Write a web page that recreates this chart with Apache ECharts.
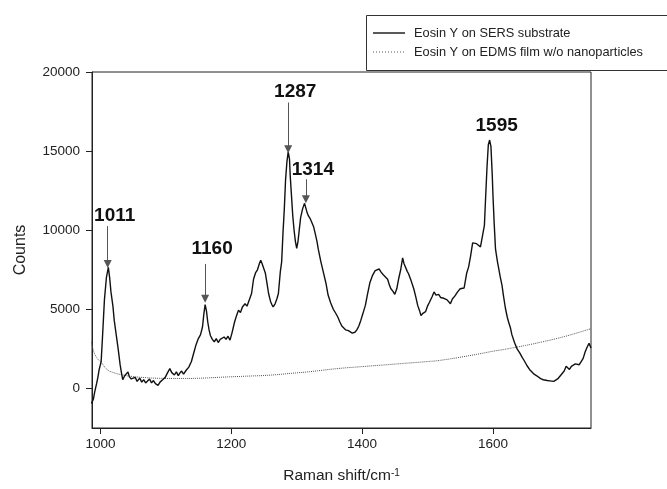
<!DOCTYPE html>
<html>
<head>
<meta charset="utf-8">
<script src="https://cdn.jsdelivr.net/npm/echarts@6/dist/echarts.min.js"></script>
<style>
html,body{margin:0;padding:0;background:#fff;}
#chart{width:667px;height:489px;}
</style>
</head>
<body>
<div id="chart"></div>
<script>
// SERS spectrum (Raman shift, counts)
var sersX = [986,989,991,994,996,998,1001,1003,1006,1009,1012,1014,1016,1019,1021,1024,1027,1030,1032,1034,1037,1040,1042,1044,1047,1050,1053,1056,1060,1063,1066,1069,1072,1075,1078,1081,1084,1088,1091,1095,1099,1102,1106,1109,1113,1116,1119,1121,1124,1127,1131,1135,1139,1143,1146,1149,1153,1156,1158,1160,1162,1164,1166,1168,1171,1174,1177,1180,1183,1186,1189,1192,1195,1198,1201,1205,1208,1211,1214,1217,1221,1224,1228,1231,1234,1237,1240,1243,1245,1247,1249,1252,1254,1257,1260,1262,1264,1267,1270,1272,1275,1277,1279,1281,1283,1285,1287,1289,1290,1292,1294,1296,1298,1300,1302,1304,1306,1309,1312,1314,1316,1318,1321,1323,1326,1328,1331,1333,1337,1341,1345,1348,1352,1356,1359,1363,1366,1369,1372,1375,1379,1382,1385,1389,1392,1395,1398,1401,1405,1408,1412,1416,1420,1423,1426,1429,1432,1435,1439,1442,1444,1447,1450,1453,1456,1459,1462,1464,1466,1469,1471,1475,1479,1482,1485,1488,1490,1493,1497,1500,1503,1507,1510,1513,1517,1520,1525,1530,1535,1538,1542,1546,1550,1553,1556,1560,1563,1566,1569,1572,1575,1578,1581,1584,1587,1589,1591,1593,1595,1597,1599,1600,1602,1604,1607,1609,1611,1614,1616,1619,1622,1624,1627,1629,1633,1637,1641,1645,1648,1652,1656,1659,1663,1667,1670,1673,1677,1680,1683,1687,1690,1693,1696,1699,1702,1705,1709,1712,1714,1717,1720,1723,1726,1729,1732,1735,1738,1741,1744,1747,1750];
var sersY = [-950,-700,-250,300,700,1200,1700,3200,5600,7000,7650,7000,6100,5200,4300,3400,2500,1500,1000,550,800,700,1050,750,600,500,700,450,650,400,550,350,450,600,350,500,300,200,400,550,700,950,1250,1000,850,1050,800,950,1100,900,1150,1350,1700,2300,2750,3100,3400,3900,4700,5300,4900,4200,3700,3350,3100,2950,3150,2900,3100,3000,3250,3100,3300,3050,3500,4200,4600,4950,4800,5150,5350,5200,5650,6000,6900,7300,7500,7900,8100,7900,7850,7300,6800,6000,5500,5300,5150,5350,5700,6000,7400,8000,9800,11300,13200,14300,14950,14500,13500,12200,10900,10000,9300,8850,9300,10050,10800,11350,11700,11650,11100,10900,10700,10500,10200,9850,9300,8800,8000,7300,6600,5900,5400,5000,4800,4500,4200,3950,4000,3700,3650,3750,3500,3550,3700,3950,4300,4700,5250,5900,6700,7150,7450,7400,7550,7350,7200,7300,6900,6500,6300,6150,5950,6300,6950,7500,8250,7900,7850,7400,7250,6800,6300,5800,5250,4900,4600,4750,4850,5200,5450,5800,6100,5900,5950,5750,5700,5600,5350,5650,5850,6100,6300,6200,6350,7300,7700,8400,9200,9250,9150,9200,8950,8950,10300,12200,14000,15400,15700,15300,13500,12300,10400,8800,8000,7550,7100,6500,5900,5100,4500,4200,3800,3400,2900,2500,2250,1950,1750,1450,1200,1100,900,800,700,620,550,600,500,480,550,450,400,600,700,900,1100,1400,1450,1200,1400,1300,1550,1450,1500,1700,1900,2300,2600,2850,2550];

// film without nanoparticles
var filmX = [986,990,995,1001,1010,1020,1034,1050,1070,1090,1110,1130,1160,1190,1220,1259,1290,1320,1361,1400,1463,1500,1520,1565,1600,1622,1650,1673,1700,1724,1750];
var filmY = [2950,2300,1900,1650,1200,1000,850,750,680,640,630,630,660,720,770,840,950,1060,1250,1380,1580,1700,1780,2080,2350,2500,2720,2920,3180,3450,3780];

var seriesNames = ['Eosin Y on SERS substrate', 'Eosin Y on EDMS film w/o nanoparticles'];

// peak annotations
var peakLabels = ['1011', '1160', '1287', '1314', '1595'];
var peakX = [1011, 1160, 1287, 1314, 1595];
var labelY = [10900, 8816, 18770, 13850, 16590];
var arrowFrom = [10260, 7870, 18070, 13220, null];
var arrowTo = [7870, 5670, 15110, 11960, null];

var xTicks = [1000, 1200, 1400, 1600];
var yTicks = [0, 5000, 10000, 15000, 20000];

var FONT = '"Liberation Sans", Arial, sans-serif';

function pairs(xs, ys) { return xs.map(function (x, i) { return [x, ys[i]]; }); }

var arrowData = [];
peakX.forEach(function (x, i) {
  if (arrowFrom[i] != null) arrowData.push([{ coord: [x, arrowFrom[i]] }, { coord: [x, arrowTo[i]] }]);
});
var labelData = peakX.map(function (x, i) {
  return { coord: [x, labelY[i]], value: peakLabels[i] };
});

// legend drawn as graphic (box partly off-canvas like the reference)
var legendGraphic = [
  { type: 'rect', left: 364, top: 13, silent: true, shape: { width: 320, height: 55 },
    style: { fill: 'none', stroke: '#333', lineWidth: 1 } },
  { type: 'line', silent: true, shape: { x1: 373, y1: 33, x2: 405, y2: 33 },
    style: { stroke: '#000', lineWidth: 1.3 } },
  { type: 'line', silent: true, shape: { x1: 373, y1: 52, x2: 405, y2: 52 },
    style: { stroke: '#555', lineWidth: 1, lineDash: [1, 2] } },
  { type: 'text', silent: true, x: 414, y: 33,
    style: { text: seriesNames[0], fill: '#222', font: '12.8px ' + FONT, textVerticalAlign: 'middle', verticalAlign: 'middle' } },
  { type: 'text', silent: true, x: 414, y: 52,
    style: { text: seriesNames[1], fill: '#222', font: '12.8px ' + FONT, textVerticalAlign: 'middle', verticalAlign: 'middle' } }
];

var chart = echarts.init(document.getElementById('chart'), null, { renderer: 'canvas' });
chart.setOption({
  animation: false,
  backgroundColor: '#fff',
  textStyle: { fontFamily: FONT },
  grid: { left: 92, right: 76, top: 72, bottom: 59, show: true, borderColor: '#222', borderWidth: 1, backgroundColor: 'transparent' },
  graphic: legendGraphic,
  xAxis: {
    type: 'value', min: 987, max: 1750,
    name: 'Raman shift/cm{sup|-1}', nameLocation: 'middle', nameGap: 40,
    nameTextStyle: { fontSize: 15.5, color: '#222', fontFamily: FONT,
      rich: { sup: { fontSize: 10, verticalAlign: 'top', color: '#222', padding: [0, 0, 6, 0] } } },
    axisLine: { show: true, onZero: false, lineStyle: { color: '#222', width: 1 } },
    axisTick: { show: true, inside: false, length: 6, customValues: xTicks, lineStyle: { color: '#222' } },
    axisLabel: { fontSize: 13.5, color: '#222', margin: 9, customValues: xTicks, fontFamily: FONT,
      formatter: function (v) { return String(v); } },
    splitLine: { show: false }
  },
  yAxis: {
    type: 'value', min: -2500, max: 20000,
    name: 'Counts', nameLocation: 'middle', nameGap: 63, nameRotate: 90,
    nameTextStyle: { fontSize: 16, color: '#222', fontFamily: FONT },
    axisLine: { show: true, onZero: false, lineStyle: { color: '#222', width: 1 } },
    axisTick: { show: true, inside: false, length: 6, customValues: yTicks, lineStyle: { color: '#222' } },
    axisLabel: { fontSize: 13.5, color: '#222', margin: 12, customValues: yTicks, fontFamily: FONT,
      formatter: function (v) { return String(v); } },
    splitLine: { show: false }
  },
  series: [
    {
      name: seriesNames[0], type: 'line', data: pairs(sersX, sersY),
      symbol: 'none', smooth: false,
      lineStyle: { color: '#111', width: 1.4 }, itemStyle: { color: '#111' },
      z: 3,
      markLine: {
        silent: true, symbol: ['none', 'triangle'], symbolSize: [8, 8],
        label: { show: false },
        lineStyle: { color: '#555', width: 1, type: 'solid' },
        data: arrowData
      },
      markPoint: {
        silent: true, symbol: 'circle', symbolSize: 0,
        label: { show: true, position: 'inside', offset: [7, 0], formatter: '{c}',
          fontSize: 19, fontWeight: 'bold', color: '#111', fontFamily: FONT },
        data: labelData
      }
    },
    {
      name: seriesNames[1], type: 'line', data: pairs(filmX, filmY),
      symbol: 'none', smooth: true,
      lineStyle: { color: '#555', width: 1, type: 'dotted' }, itemStyle: { color: '#555' },
      z: 2
    }
  ]
});
</script>
</body>
</html>
